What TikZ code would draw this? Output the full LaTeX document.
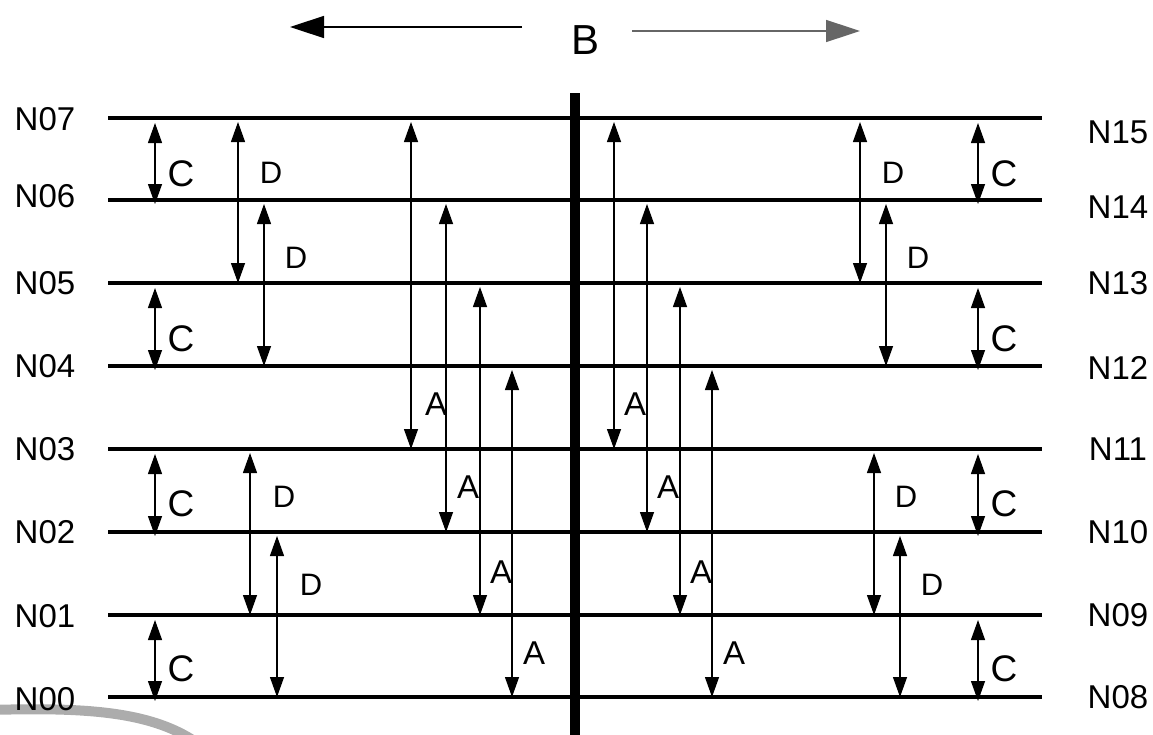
\documentclass[tikz,border=0pt]{standalone}
\usepackage{fontspec}
\setmainfont{Liberation Sans}
\usetikzlibrary{arrows.meta}
\begin{document}
\begin{tikzpicture}[x=1pt,y=-1pt,
  level/.style={line width=3.5pt},
  bus/.style={line width=10pt},
  span/.style={{Triangle[length=20pt,width=14pt]}-{Triangle[length=20pt,width=14pt]}, line width=1.3pt},
  wide/.style={-{Triangle[length=34pt,width=22pt]}, line width=1.5pt},
  lvlname/.style={font=\fontsize{33}{33}\selectfont, inner sep=0pt},
  clab/.style={font=\fontsize{37}{37}\selectfont, inner sep=0pt},
  dlab/.style={font=\fontsize{31}{31}\selectfont, inner sep=0pt},
  alab/.style={font=\fontsize{33}{33}\selectfont, inner sep=0pt}]
\useasboundingbox (0,0) rectangle (1153,734);

% faint logo arc in the lower left corner
\draw[gray!65, line width=10pt] (-10,710) .. controls (90,707) and (155,712) .. (200,745);

% level lines
\foreach \y in {118,200,283,366,449,532,615,697}
  \draw[level] (108,\y) -- (1042,\y);

% central bus
\draw[bus] (575,93) -- (575,740);

% direction arrows and B
\node[font=\fontsize{42}{42}\selectfont, inner sep=0pt] (B) at (585,40) {B};
\coordinate (bl) at (522,27);
\coordinate (bltip) at (290,27);
\coordinate (br) at (632,31);
\coordinate (brtip) at (860,31);
\draw[wide] (bl) -- (bltip);
\draw[wide, draw=black!60] (br) -- (brtip);

% level names
\foreach \t/\y in {N07/119,N06/196,N05/283,N04/366,N03/449,N02/532,N01/616,N00/699}
  \node[lvlname] at (45,\y) {\t};
\foreach \t/\y in {N15/132,N14/207,N13/283,N12/368,N11/449,N10/532,N09/615,N08/697}
  \node[lvlname] at (1118,\y) {\t};

% C spans (adjacent levels)
\foreach \x in {155,978}
  \foreach \a/\b in {118/200,283/366,449/532,615/697}
    \draw[span] (\x,\a+5) -- (\x,\b+4);
\foreach \y in {174,339,504,669}{
  \node[clab] at (181,\y) {C};
  \node[clab] at (1004,\y) {C};
}

% D spans (two levels)
\foreach \x/\a/\b/\lx/\ly in {238/118/283/271/173, 264/200/366/296/258, 250/449/615/284/497, 277/532/697/311/585,
                              860/118/283/893/173, 886/200/366/918/258, 874/449/615/906/497, 900/532/697/932/585}{
  \draw[span] (\x,\a+4) -- (\x,\b);
  \node[dlab] at (\lx,\ly) {D};
}

% A spans (four levels)
\foreach \x/\a/\b/\lx/\ly in {411/118/449/436/404, 446/200/532/468/487, 480/283/615/501/572, 512/366/697/534/653,
                              614/118/449/635/404, 647/200/532/668/487, 680/283/615/701/572, 712/366/697/734/653}{
  \draw[span] (\x,\a+4) -- (\x,\b);
  \node[alab] at (\lx,\ly) {A};
}
\end{tikzpicture}
\end{document}
